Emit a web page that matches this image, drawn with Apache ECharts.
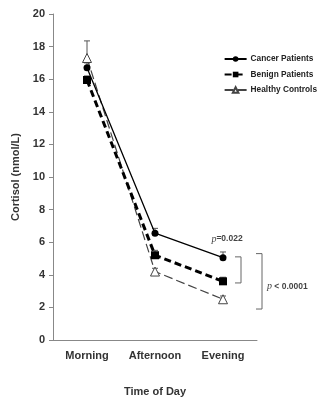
<!DOCTYPE html>
<html>
<head>
<meta charset="utf-8">
<script src="https://cdn.jsdelivr.net/npm/echarts@6/dist/echarts.min.js"></script>
<style>
  html, body { margin: 0; padding: 0; background: #fff; }
  #chart { width: 322px; height: 403px; }
</style>
</head>
<body>
<div id="chart"></div>
<script>
const categories = ['Morning', 'Afternoon', 'Evening'];
const cancer = [16.7, 6.55, 5.05];
const benign = [15.95, 5.2, 3.6];
const healthy = [17.3, 4.2, 2.5];
// upper ends of the error bars
const cancerUpper = [17.0, 6.85, 5.4];
const benignUpper = [16.2, 5.5, 3.85];
const healthyUpper = [18.35, 4.4, 2.7];
// significance brackets: [category index, top, bottom]
const brackets = [[2, 5.1, 3.5], [2, 5.3, 1.9]];

const chart = echarts.init(document.getElementById('chart'));
const font = 'Liberation Sans, Arial, sans-serif';

function errorData(vals, ups) {
  return vals.map((v, i) => [i, v, ups[i]]);
}

function errorSeries(vals, ups) {
  return {
    type: 'custom',
    data: errorData(vals, ups),
    z: 1,
    silent: true,
    renderItem: function (params, api) {
      const p0 = api.coord([api.value(0), api.value(1)]);
      const p1 = api.coord([api.value(0), api.value(2)]);
      const st = { stroke: '#555', lineWidth: 1 };
      return {
        type: 'group',
        children: [
          { type: 'line', shape: { x1: p0[0], y1: p0[1], x2: p1[0], y2: p1[1] }, style: st },
          { type: 'line', shape: { x1: p1[0] - 3, y1: p1[1], x2: p1[0] + 3, y2: p1[1] }, style: st }
        ]
      };
    }
  };
}

const offsets = [[12, 18], [33, 39]];
const rich = { i: { fontStyle: 'italic', fontWeight: 'normal', fontFamily: 'Liberation Serif, serif', fontSize: 10, color: '#444' } };

chart.setOption({
  animation: false,
  textStyle: { fontFamily: font },
  grid: { left: 53, right: 65, top: 14, bottom: 63 },
  legend: {
    right: 0,
    top: 50,
    orient: 'vertical',
    itemWidth: 22,
    itemHeight: 7,
    itemGap: 7.5,
    textStyle: { fontSize: 8.3, fontWeight: 'bold', color: '#222', fontFamily: font, padding: [0, 0, 0, -1] },
    data: ['Cancer Patients', 'Benign Patients', 'Healthy Controls']
  },
  xAxis: {
    type: 'category',
    data: categories,
    boundaryGap: true,
    name: 'Time of Day',
    nameLocation: 'middle',
    nameGap: 46,
    nameTextStyle: { fontSize: 11, fontWeight: 'bold', color: '#333', fontFamily: font },
    axisLine: { lineStyle: { color: '#888', width: 1 } },
    axisTick: { show: false },
    axisLabel: { interval: 0, fontSize: 11, fontWeight: 'bold', color: '#333', margin: 10 }
  },
  yAxis: {
    type: 'value',
    min: 0,
    max: 20,
    interval: 2,
    name: 'Cortisol (nmol/L)',
    nameLocation: 'middle',
    nameGap: 27,
    nameTextStyle: { fontSize: 11, fontWeight: 'bold', color: '#333', fontFamily: font },
    axisLine: { show: true, lineStyle: { color: '#888', width: 1 } },
    axisTick: { show: true, length: 4, lineStyle: { color: '#888' } },
    axisLabel: { fontSize: 11, fontWeight: 'bold', color: '#333', margin: 8 },
    splitLine: { show: false }
  },
  series: [
    errorSeries(cancer, cancerUpper),
    errorSeries(benign, benignUpper),
    errorSeries(healthy, healthyUpper),
    {
      name: 'Healthy Controls',
      type: 'line',
      data: healthy,
      z: 3,
      symbol: 'triangle',
      symbolSize: 9,
      itemStyle: { color: '#fff', borderColor: '#444', borderWidth: 1 },
      lineStyle: { color: '#444', width: 1.2, type: [9, 4] }
    },
    {
      name: 'Benign Patients',
      type: 'line',
      data: benign,
      z: 4,
      symbol: 'rect',
      symbolSize: 8,
      itemStyle: { color: '#000' },
      lineStyle: { color: '#000', width: 3, type: [7, 4] }
    },
    {
      name: 'Cancer Patients',
      type: 'line',
      data: cancer,
      z: 5,
      symbol: 'circle',
      symbolSize: 7,
      itemStyle: { color: '#000' },
      lineStyle: { color: '#000', width: 1.3 }
    },
    {
      type: 'custom',
      data: brackets,
      silent: true,
      renderItem: function (params, api) {
        const i = params.dataIndex;
        const top = api.coord([api.value(0), api.value(1)]);
        const bot = api.coord([api.value(0), api.value(2)]);
        const x0 = top[0] + offsets[i][0];
        const x1 = top[0] + offsets[i][1];
        const st = { stroke: '#666', lineWidth: 1, fill: null };
        const children = [
          { type: 'polyline', shape: { points: [[x0, top[1]], [x1, top[1]], [x1, bot[1]], [x0, bot[1]]] }, style: st }
        ];
        if (i === 0) {
          children.push({
            type: 'text',
            style: {
              x: top[0] + 4, y: api.coord([2, 6.2])[1],
              text: '{i|p}=0.022', align: 'center', verticalAlign: 'middle',
              font: 'bold 8.5px ' + font, fill: '#444', rich: rich
            }
          });
        } else {
          children.push({
            type: 'text',
            style: {
              x: x1 + 5, y: (top[1] + bot[1]) / 2 + 5,
              text: '{i|p} < 0.0001', align: 'left', verticalAlign: 'middle',
              font: 'bold 8.5px ' + font, fill: '#444', rich: rich
            }
          });
        }
        return { type: 'group', children: children };
      }
    }
  ]
});
</script>
</body>
</html>
